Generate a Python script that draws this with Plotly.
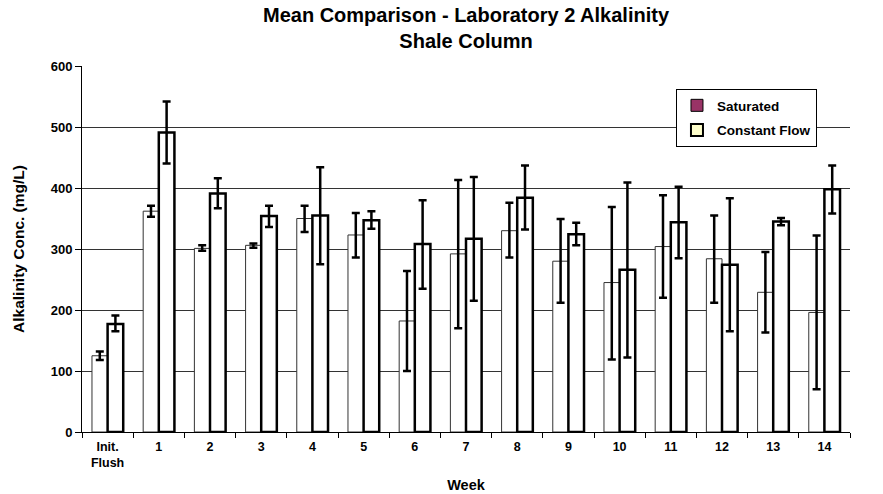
import plotly.graph_objects as go

categories = ["Init.<br>Flush", "1", "2", "3", "4", "5", "6", "7", "8", "9", "10", "11", "12", "13", "14"]

sat_mean = [125, 362, 301, 306, 350, 323, 182, 292, 330, 280, 245, 304, 284, 229, 196]
sat_hi = [132, 371, 306, 309, 371, 359, 264, 413, 376, 349, 369, 388, 355, 295, 322]
sat_lo = [118, 353, 297, 302, 328, 286, 100, 170, 286, 212, 119, 220, 212, 163, 70]

cf_mean = [177, 491, 391, 354, 355, 347, 308, 317, 384, 324, 266, 344, 274, 345, 398]
cf_hi = [191, 542, 416, 371, 434, 362, 380, 418, 437, 343, 409, 402, 383, 351, 437]
cf_lo = [165, 440, 367, 336, 275, 333, 235, 215, 332, 306, 122, 285, 165, 339, 358]

title_text = "Mean Comparison - Laboratory 2 Alkalinity<br>Shale Column"

FONT = "Liberation Sans, Arial, sans-serif"


def up(m, h):
    return [a - b for a, b in zip(h, m)]


def down(m, l):
    return [a - b for a, b in zip(m, l)]


fig = go.Figure()

fig.add_trace(go.Bar(
    x=categories, y=sat_mean, name="Saturated", showlegend=False,
    marker=dict(color="white", line=dict(color="#333333", width=1)),
    error_y=dict(type="data", symmetric=False, array=up(sat_mean, sat_hi),
                 arrayminus=down(sat_mean, sat_lo), color="black", thickness=2.5, width=4),
))
fig.add_trace(go.Bar(
    x=categories, y=cf_mean, name="Constant Flow", showlegend=False,
    marker=dict(color="white", line=dict(color="black", width=2.5)),
    error_y=dict(type="data", symmetric=False, array=up(cf_mean, cf_hi),
                 arrayminus=down(cf_mean, cf_lo), color="black", thickness=2.5, width=4),
))

# legend swatches (colours as shown in the reference legend)
fig.add_trace(go.Bar(
    x=[None], y=[None], name="Saturated", xaxis="x2", yaxis="y2", legendgroup="a",
    marker=dict(color="#993366", line=dict(color="black", width=1)),
))
fig.add_trace(go.Bar(
    x=[None], y=[None], name="Constant Flow", xaxis="x2", yaxis="y2", legendgroup="b",
    marker=dict(color="#FFFFCC", line=dict(color="black", width=2)),
))

fig.update_layout(
    width=883, height=494,
    margin=dict(l=82, r=33, t=66, b=62, autoexpand=False),
    paper_bgcolor="white", plot_bgcolor="white",
    barmode="group", bargap=0.39, bargroupgap=0,
    font=dict(family=FONT, color="black", size=13),
    xaxis=dict(
        type="category", tickson="boundaries", ticks="outside", ticklen=5,
        tickcolor="black", showline=True, linecolor="black", linewidth=1,
        showgrid=False, automargin=False, ticklabelstandoff=3,
        tickfont=dict(family=FONT, size=12.5, weight="bold", color="black"),
        title=dict(text="<b>Week</b>", font=dict(family=FONT, size=14.5, color="black"), standoff=10),
    ),
    yaxis=dict(
        range=[0, 600], dtick=100, ticks="outside", ticklen=6, tickcolor="black",
        showline=True, linecolor="black", linewidth=1,
        showgrid=True, gridcolor="#333333", gridwidth=1, zeroline=False, automargin=False,
        tickfont=dict(family=FONT, size=13, weight="bold", color="black"),
        title=dict(text="<b>Alkalinity Conc. (mg/L)</b>", font=dict(family=FONT, size=15.5, color="black"), standoff=22),
    ),
    xaxis2=dict(overlaying="x", visible=False),
    yaxis2=dict(overlaying="y", visible=False, range=[0, 1]),
    legend=dict(
        x=0.7734, y=0.937, xanchor="left", yanchor="top",
        bgcolor="white", bordercolor="black", borderwidth=1,
        font=dict(family=FONT, size=13.5, weight="bold", color="black"),
        traceorder="grouped", tracegroupgap=4, itemwidth=30,
    ),
    annotations=[dict(
        text="<b>" + title_text + "</b>", xref="paper", yref="paper",
        x=0.5, y=1 + 64 / 366, xanchor="center", yanchor="top", showarrow=False,
        font=dict(family=FONT, size=20, color="black"), align="center",
    )],
)

fig.write_html(
    "out.html",
    config={"displayModeBar": False},
    post_script="document.body.style.margin='0';document.body.style.overflow='hidden';",
)
